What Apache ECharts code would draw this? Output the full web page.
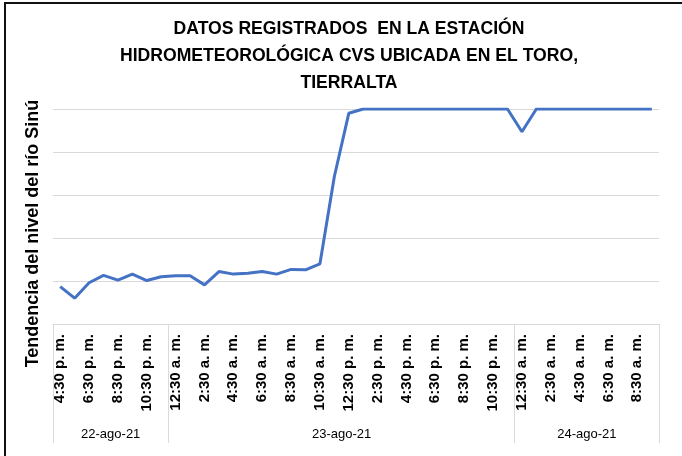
<!DOCTYPE html>
<html>
<head>
<meta charset="utf-8">
<script src="https://cdn.jsdelivr.net/npm/echarts@6/dist/echarts.min.js"></script>
<style>
  html, body { margin: 0; padding: 0; background: #fff; }
  #main { position: absolute; left: 0; top: 0; width: 682px; height: 456px; }
  #frame { position: absolute; left: 4px; top: 2px; width: 700px; height: 480px;
    border-left: 2px solid #111; border-top: 2px solid #111; pointer-events: none; }
</style>
</head>
<body>
<div id="main"></div>
<div id="frame"></div>
<script>
// horas de cada día
var day1Times = ['4:30 p. m.', '5:30 p. m.', '6:30 p. m.', '7:30 p. m.', '8:30 p. m.', '9:30 p. m.', '10:30 p. m.', '11:30 p. m.']
var day2Times = [
  '12:30 a. m.', '1:30 a. m.', '2:30 a. m.', '3:30 a. m.', '4:30 a. m.', '5:30 a. m.',
  '6:30 a. m.', '7:30 a. m.', '8:30 a. m.', '9:30 a. m.', '10:30 a. m.', '11:30 a. m.',
  '12:30 p. m.', '1:30 p. m.', '2:30 p. m.', '3:30 p. m.', '4:30 p. m.', '5:30 p. m.',
  '6:30 p. m.', '7:30 p. m.', '8:30 p. m.', '9:30 p. m.', '10:30 p. m.', '11:30 p. m.'
]
var day3Times = [
  '12:30 a. m.', '1:30 a. m.', '2:30 a. m.', '3:30 a. m.', '4:30 a. m.',
  '5:30 a. m.', '6:30 a. m.', '7:30 a. m.', '8:30 a. m.', '9:30 a. m.'
]
var dates = ['22-ago-21', '23-ago-21', '24-ago-21']

// tendencia del nivel (lectura aproximada)
var nivel = [
  0.87, 0.6, 0.96, 1.13, 1.02, 1.16, 1.01, 1.1,
  1.12, 1.12, 0.91, 1.22, 1.16, 1.18, 1.22, 1.16, 1.27, 1.26, 1.4, 3.43, 4.9,
  5, 5, 5, 5, 5, 5, 5, 5, 5, 5, 5,
  4.47, 5, 5, 5, 5, 5, 5, 5, 5, 5
]

var times = day1Times.concat(day2Times, day3Times)
var groupSizes = [day1Times.length, day2Times.length, day3Times.length]

// eje de fechas: una entrada por cada límite entre horas
var bounds = [0]
var centers = {}
var acc = 0
groupSizes.forEach(function(n, i) {
  centers[acc + n / 2] = dates[i]
  acc += n
  bounds.push(acc)
})
var dateAxis = []
for (var k = 0; k <= times.length; k++) {
  dateAxis.push(centers[k] || '')
}

var chart = echarts.init(document.getElementById('main'))
chart.setOption({
  animation: false,
  title: {
    text: 'DATOS REGISTRADOS  EN LA ESTACIÓN\nHIDROMETEOROLÓGICA CVS UBICADA EN EL TORO,\nTIERRALTA',
    left: 344,
    textAlign: 'center',
    top: 11,
    textStyle: {
      fontFamily: 'Liberation Sans, Arial, sans-serif',
      fontSize: 17.6,
      fontWeight: 'bold',
      lineHeight: 27,
      color: '#000'
    }
  },
  grid: {
    left: 53,
    right: 23,
    top: 109,
    bottom: 132
  },
  xAxis: [
    {
      type: 'category',
      data: times,
      boundaryGap: true,
      position: 'bottom',
      axisLine: { lineStyle: { color: '#d9d9d9', width: 1 } },
      axisTick: { show: false },
      axisLabel: {
        interval: 1,
        rotate: 90,
        margin: 10,
        fontFamily: 'Liberation Sans, Arial, sans-serif',
        fontSize: 15,
        fontWeight: 'bold',
        color: '#000'
      },
      splitLine: { show: false }
    },
    {
      type: 'category',
      data: dateAxis,
      boundaryGap: false,
      position: 'bottom',
      axisLine: { show: false },
      axisTick: {
        show: true,
        length: 119,
        interval: function(index) {
          return bounds.indexOf(index) >= 0
        },
        lineStyle: { color: '#d9d9d9', width: 1 }
      },
      axisLabel: {
        interval: function(index, value) {
          return value !== ''
        },
        margin: 104,
        fontFamily: 'Liberation Sans, Arial, sans-serif',
        fontSize: 13,
        color: '#000'
      },
      splitLine: { show: false }
    }
  ],
  yAxis: {
    type: 'value',
    min: 0,
    max: 5,
    interval: 1,
    name: 'Tendencia del nivel del río Sinú',
    nameLocation: 'middle',
    nameRotate: 90,
    nameGap: 11,
    nameTextStyle: {
      fontFamily: 'Liberation Sans, Arial, sans-serif',
      fontSize: 18,
      fontWeight: 'bold',
      color: '#000',
      padding: [0, 34, 0, 0]
    },
    axisLine: { show: false },
    axisTick: { show: false },
    axisLabel: { show: false },
    splitLine: { lineStyle: { color: '#d9d9d9', width: 1 } }
  },
  series: [
    {
      name: 'Nivel',
      type: 'line',
      xAxisIndex: 0,
      data: nivel,
      symbol: 'none',
      lineStyle: { color: '#4472C4', width: 3 }
    }
  ]
})
</script>
</body>
</html>
